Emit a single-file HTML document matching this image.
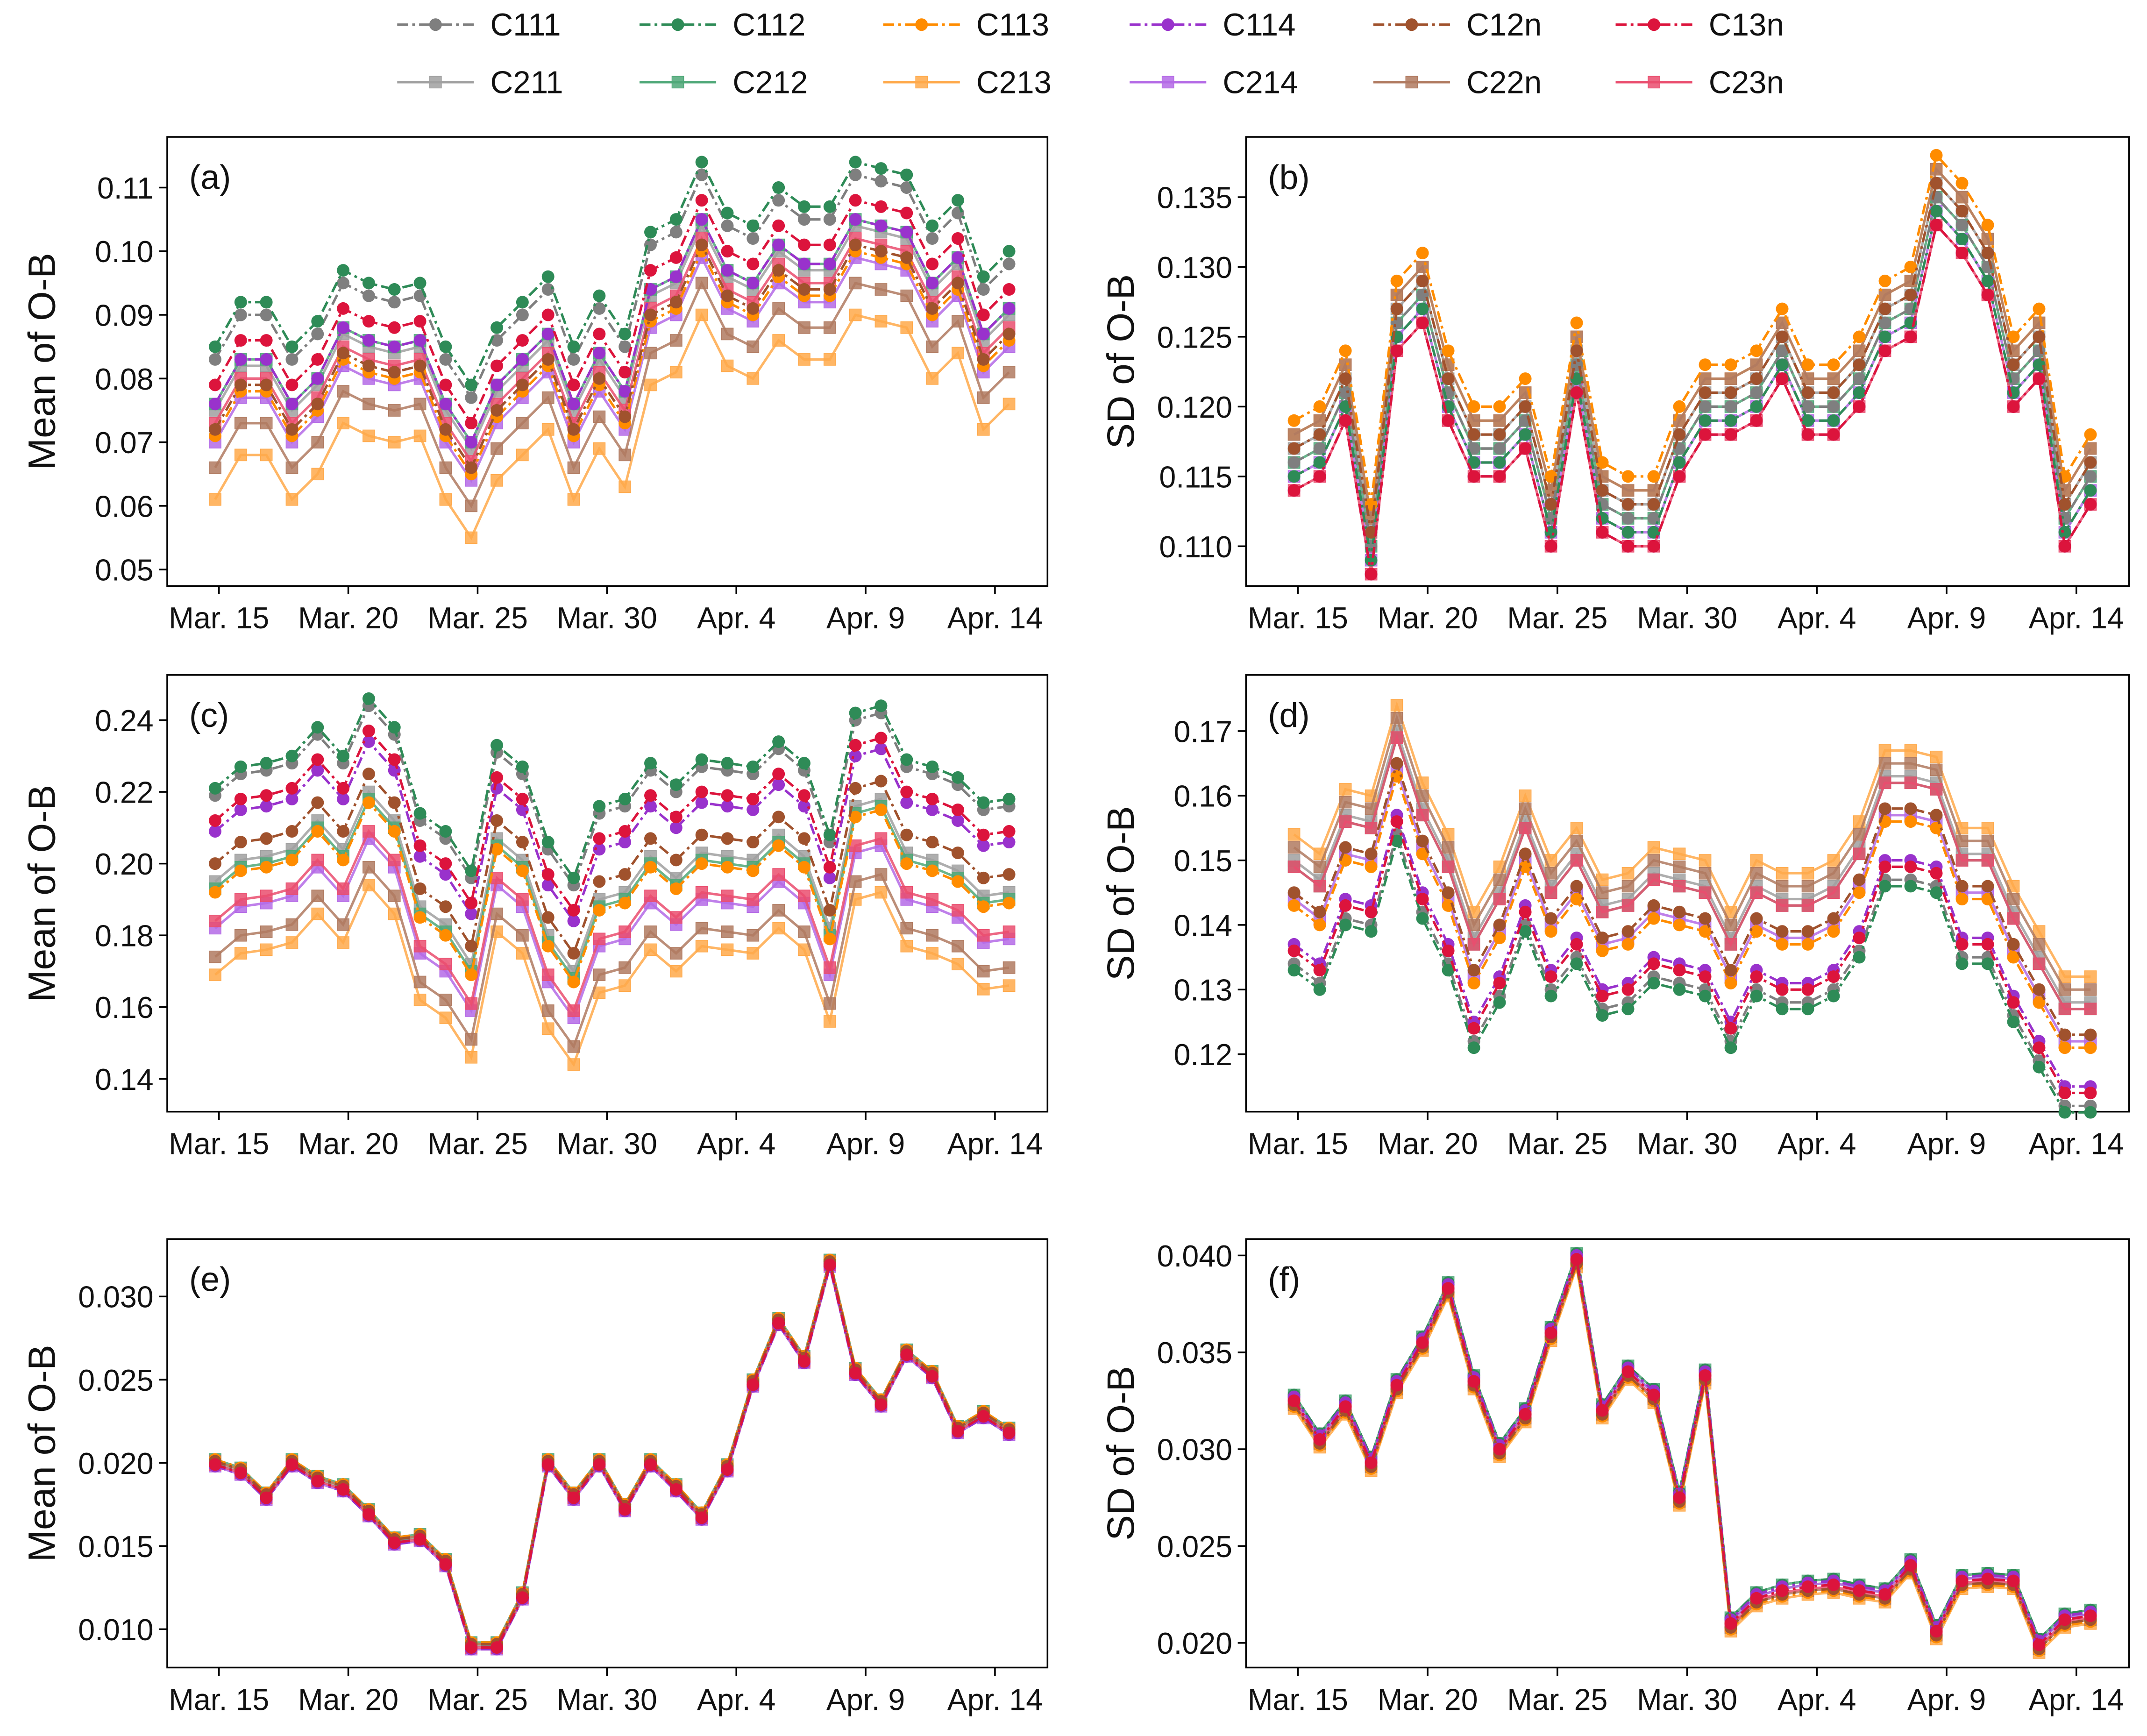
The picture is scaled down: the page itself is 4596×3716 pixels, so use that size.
<!DOCTYPE html>
<html><head><meta charset="utf-8">
<style>
html,body{margin:0;padding:0;background:#fff;}
svg{display:block;font-family:"Liberation Sans",sans-serif;}
</style></head>
<body>
<svg id="chart" width="4596" height="3716" viewBox="0 0 1568 1268" xmlns="http://www.w3.org/2000/svg">
<rect x="0" y="0" width="1568" height="1268" fill="#fff"/>
<g id="legend"></g>
<g id="panels"></g>
</svg>
<script>
const seriesNames = ["C111","C112","C113","C114","C12n","C13n","C211","C212","C213","C214","C22n","C23n"];
const seriesColors = ["#7f7f7f","#2e8b57","#ff8c00","#9932cc","#a0522d","#dc143c","#a0a0a0","#4fa878","#ffa94a","#b46ae6","#b07a60","#ea4d6e"];
const tickLabels = ["Mar. 15","Mar. 20","Mar. 25","Mar. 30","Apr. 4","Apr. 9","Apr. 14"];
const tickDays = [0.15,5.2,10.25,15.3,20.35,25.4,30.45];

const baseA = [0.085,0.092,0.092,0.085,0.089,0.097,0.095,0.094,0.095,0.085,0.079,0.088,0.092,0.096,0.085,0.093,0.087,0.103,0.105,0.114,0.106,0.104,0.110,0.107,0.107,0.114,0.113,0.112,0.104,0.108,0.096,0.100];
const offA = [-0.002,0,-0.014,-0.009,-0.013,-0.006,-0.010,-0.009,-0.024,-0.015,-0.019,-0.012];
const baseB = [0.116,0.117,0.121,0.110,0.126,0.128,0.121,0.117,0.117,0.119,0.112,0.123,0.113,0.112,0.112,0.117,0.120,0.120,0.121,0.124,0.120,0.120,0.122,0.126,0.127,0.135,0.133,0.130,0.122,0.124,0.112,0.115];
const offB = [0,-0.001,0.003,-0.002,0.001,-0.002,0.001,0,0.002,-0.001,0.002,-0.002];
const baseC = [0.221,0.227,0.228,0.230,0.238,0.230,0.246,0.238,0.214,0.209,0.198,0.233,0.227,0.206,0.196,0.216,0.218,0.228,0.222,0.229,0.228,0.227,0.234,0.228,0.208,0.242,0.244,0.229,0.227,0.224,0.217,0.218];
const offC = [-0.002,0,-0.029,-0.012,-0.021,-0.009,-0.026,-0.028,-0.052,-0.039,-0.047,-0.037];
const baseD = [0.154,0.151,0.161,0.160,0.174,0.162,0.154,0.142,0.149,0.160,0.150,0.155,0.147,0.148,0.152,0.151,0.150,0.142,0.150,0.148,0.148,0.150,0.156,0.167,0.167,0.166,0.155,0.155,0.146,0.139,0.132,0.132];
const offD = [-0.020,-0.021,-0.011,-0.017,-0.009,-0.018,-0.004,-0.005,0,-0.010,-0.002,-0.005];
const baseE = [0.0200,0.0195,0.0180,0.0200,0.0190,0.0185,0.0170,0.0153,0.0155,0.0140,0.0090,0.0090,0.0120,0.0200,0.0180,0.0200,0.0173,0.0200,0.0185,0.0168,0.0197,0.0248,0.0285,0.0262,0.0320,0.0255,0.0236,0.0266,0.0253,0.0220,0.0229,0.0219];
const offE = [0,0.0002,0.0002,-0.0002,0.0001,-0.0001,0,0.0002,0.0001,-0.0002,0.0001,-0.0001];
const baseF = [0.0325,0.0305,0.0322,0.0293,0.0333,0.0355,0.0383,0.0335,0.0300,0.0318,0.0360,0.0398,0.0320,0.0340,0.0328,0.0275,0.0338,0.0210,0.0223,0.0227,0.0229,0.0230,0.0227,0.0225,0.0240,0.0206,0.0232,0.0233,0.0232,0.0199,0.0212,0.0214];
const offF = [0.0002,0.0003,-0.0003,0.0002,-0.0002,0,0.0001,0.0003,-0.0004,0.0001,-0.0002,-0.0001];

const NS="http://www.w3.org/2000/svg";
function mk(tag,attrs,parent){const e=document.createElementNS(NS,tag);for(const k in attrs)e.setAttribute(k,attrs[k]);if(parent)parent.appendChild(e);return e;}

const panels=[
 {id:"a",box:[122,100,765,428],t1:[0.11,137],t2:[0.05,416],ticks:[0.05,0.06,0.07,0.08,0.09,0.10,0.11],dec:2,title:"Mean of O-B",base:baseA,off:offA},
 {id:"b",box:[910,100,1555,428],t1:[0.135,144],t2:[0.110,399],ticks:[0.110,0.115,0.120,0.125,0.130,0.135],dec:3,title:"SD of O-B",base:baseB,off:offB},
 {id:"c",box:[122,493,765,812],t1:[0.24,526],t2:[0.14,788],ticks:[0.14,0.16,0.18,0.20,0.22,0.24],dec:2,title:"Mean of O-B",base:baseC,off:offC},
 {id:"d",box:[910,493,1555,812],t1:[0.17,534],t2:[0.12,770],ticks:[0.12,0.13,0.14,0.15,0.16,0.17],dec:2,title:"SD of O-B",base:baseD,off:offD},
 {id:"e",box:[122,905,765,1218],t1:[0.030,947],t2:[0.010,1190],ticks:[0.010,0.015,0.020,0.025,0.030],dec:3,title:"Mean of O-B",base:baseE,off:offE},
 {id:"f",box:[910,905,1555,1218],t1:[0.040,917],t2:[0.020,1200],ticks:[0.020,0.025,0.030,0.035,0.040],dec:3,title:"SD of O-B",base:baseF,off:offF}
];

function marker(g,isSq,x,y,c){
  if(isSq) return mk("rect",{x:x-4.3,y:y-4.3,width:8.6,height:8.6,fill:c,stroke:c,"stroke-width":0.5,"fill-opacity":0.85},g);
  return mk("circle",{cx:x,cy:y,r:4.6,fill:c},g);
}

const root=document.getElementById("panels");
panels.forEach(p=>{
  const [L,T,R,B]=p.box;
  const g=mk("g",{},root);
  
  
  const xs=i=>L+((i+1.87)/(32.5+1.87))*(R-L);
  const ys=v=>p.t2[1]+(v-p.t2[0])*(p.t1[1]-p.t2[1])/(p.t1[0]-p.t2[0]);
  const frame=mk("rect",{x:L,y:T,width:R-L,height:B-T,fill:"none",stroke:"#000","stroke-width":1.2},g);
  
  
  p.ticks.forEach(v=>{
    const y=ys(v);
    mk("line",{x1:L-6,x2:L,y1:y,y2:y,stroke:"#000","stroke-width":1.2},g);
    const t=mk("text",{x:L-10,y:y+8,"font-size":22,"text-anchor":"end",fill:"#111"},g);
    t.textContent=v.toFixed(p.dec);
    
    
  });
  tickDays.forEach((d,k)=>{
    const x=xs(d);
    mk("line",{x1:x,x2:x,y1:B,y2:B+6,stroke:"#000","stroke-width":1.2},g);
    const t=mk("text",{x:x,y:B+31,"font-size":22,"text-anchor":"middle",fill:"#111"},g);
    t.textContent=tickLabels[k];
    
    
  });
  const yt=mk("text",{x:0,y:0,"font-size":28,"text-anchor":"middle",fill:"#111",transform:`translate(${L-82},${(T+B)/2}) rotate(-90)`},g);
  yt.textContent=p.title;
  
  
  const pl=mk("text",{x:L+16,y:T+38,"font-size":25,fill:"#111"},g);
  pl.textContent="("+p.id+")";
  
  
  const order=[6,7,8,9,10,11,0,1,2,3,4,5];
  order.forEach(s=>{
    const sg=mk("g",{},g);
    
    
    const vals=p.base.map(v=>v+p.off[s]);
    const pts=vals.map((v,i)=>xs(i).toFixed(1)+","+ys(v).toFixed(1)).join(" ");
    const isSq=s>=6;
    mk("polyline",{points:pts,fill:"none",stroke:seriesColors[s],"stroke-width":1.8,"stroke-dasharray":isSq?"none":"8,3,2,3","stroke-opacity":isSq?0.85:1},sg);
    vals.forEach((v,i)=>marker(sg,isSq,xs(i),ys(v),seriesColors[s]));
  });
});

const lg=document.getElementById("legend");
const legX=[290,467,645,825,1003,1180];
seriesNames.forEach((n,s)=>{
  const col=s%6,row=Math.floor(s/6);
  const x=legX[col],y=row?60:18;
  const eg=mk("g",{},lg);
  
  
  const isSq=s>=6;
  mk("line",{x1:x,x2:x+56,y1:y,y2:y,stroke:seriesColors[s],"stroke-width":1.8,"stroke-dasharray":isSq?"none":"8,3,2,3"},eg);
  marker(eg,isSq,x+28,y,seriesColors[s]);
  const t=mk("text",{x:x+68,y:y+8,"font-size":23,fill:"#111"},eg);
  t.textContent=n;
});
</script>
</body></html>
